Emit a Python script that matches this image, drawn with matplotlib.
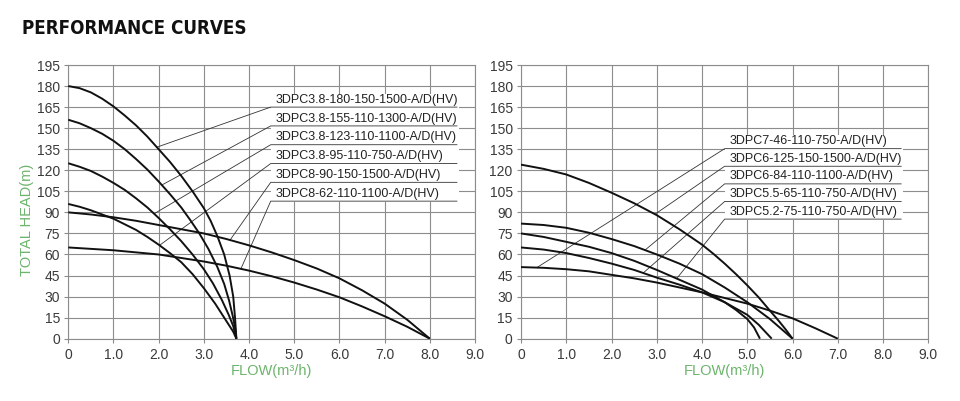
import numpy as np
import matplotlib
matplotlib.use('Agg')
import matplotlib.pyplot as plt
from matplotlib.patches import Rectangle

# ---- left panel data (flow m3/h, head m) ----
left_names = ['3DPC3.8-180-150-1500-A/D(HV)', '3DPC3.8-155-110-1300-A/D(HV)',
              '3DPC3.8-123-110-1100-A/D(HV)', '3DPC3.8-95-110-750-A/D(HV)',
              '3DPC8-90-150-1500-A/D(HV)', '3DPC8-62-110-1100-A/D(HV)']

q_180 = [0, 0.25, 0.5, 0.75, 1, 1.25, 1.5, 1.75, 2, 2.25, 2.5, 2.75, 3, 3.15, 3.3, 3.45, 3.57, 3.65, 3.69, 3.72]
h_180 = [180, 178.5, 175.5, 171, 165.5, 159, 152, 144, 135, 126, 116, 105, 93, 84, 73, 60, 45, 30, 15, 0]
q_155 = [0, 0.25, 0.5, 0.75, 1, 1.25, 1.5, 1.75, 2, 2.25, 2.5, 2.7, 2.9, 3.1, 3.3, 3.45, 3.56, 3.64, 3.69, 3.72]
h_155 = [156, 153.5, 150, 146, 141, 135, 128, 120.5, 112, 103, 93.5, 84.5, 75, 64, 51, 39, 27, 16, 8, 0]
q_123 = [0, 0.25, 0.5, 0.75, 1, 1.25, 1.5, 1.75, 2, 2.25, 2.5, 2.75, 3, 3.2, 3.4, 3.55, 3.65, 3.72]
h_123 = [125, 122.5, 119.5, 115.5, 111, 106, 100, 93.5, 86, 78, 69.5, 60, 49.5, 39.5, 27.5, 17, 9, 0]
q_95 = [0, 0.25, 0.5, 0.75, 1, 1.25, 1.5, 1.75, 2, 2.25, 2.5, 2.75, 3, 3.25, 3.5, 3.65, 3.72]
h_95 = [96, 94, 91.5, 88.5, 85.5, 81.5, 77.5, 72.5, 67, 61, 54.5, 46, 36, 25, 12.5, 5, 0]
q_90 = [0, 0.5, 1, 1.5, 2, 2.5, 3, 3.5, 4, 4.5, 5, 5.5, 6, 6.5, 7, 7.5, 8]
h_90 = [90, 88.5, 86.5, 84, 81, 78, 75, 71, 66.5, 61.5, 56, 50, 43, 34.5, 25, 13.5, 0]
q_62 = [0, 1, 2, 3, 3.5, 4, 4.5, 5, 5.5, 6, 6.5, 7, 7.5, 8]
h_62 = [65, 63, 60, 55, 52, 48.5, 44.5, 40, 35, 29.5, 23, 16, 8.5, 0]
left_leader_q = [1.96, 2.07, 1.90, 2.02, 3.58, 3.82]

# ---- right panel data ----
right_names = ['3DPC7-46-110-750-A/D(HV)', '3DPC6-125-150-1500-A/D(HV)',
               '3DPC6-84-110-1100-A/D(HV)', '3DPC5.5-65-110-750-A/D(HV)',
               '3DPC5.2-75-110-750-A/D(HV)']

q_46 = [0, 0.5, 1, 1.5, 2, 2.5, 3, 3.5, 4, 4.5, 5, 5.5, 6, 6.5, 7]
h_46 = [51, 50.5, 49.5, 48, 45.5, 43, 40, 36.5, 33, 29, 25, 20, 14.5, 7.5, 0]
q_125 = [0, 0.5, 1, 1.5, 2, 2.5, 3, 3.5, 4, 4.25, 4.5, 4.75, 5, 5.25, 5.5, 5.7, 5.85, 6.0]
h_125 = [124, 121, 117, 111, 104, 96.5, 88, 78, 67, 60.5, 53.5, 46, 38, 29.5, 20, 12.5, 6.5, 0]
q_84 = [0, 0.5, 1, 1.5, 2, 2.5, 3, 3.5, 4, 4.5, 5, 5.5, 5.75, 6.0]
h_84 = [82, 81, 79, 75.5, 71, 66, 60, 53.5, 46, 36.5, 26, 14, 7, 0]
q_65 = [0, 0.5, 1, 1.5, 2, 2.5, 3, 3.5, 4, 4.5, 5, 5.25, 5.54]
h_65 = [65, 63.5, 61, 57.5, 53.5, 49, 43.5, 38.5, 33, 26, 17, 10, 0]
q_75 = [0, 0.5, 1, 1.5, 2, 2.5, 3, 3.5, 4, 4.5, 4.75, 5, 5.15, 5.28]
h_75 = [75, 72.5, 69, 65.5, 61, 55.5, 49, 42, 35, 26, 20.5, 14, 8, 0]
right_leader_q = [0.35, 2.96, 2.74, 2.70, 3.44]

x_ticks = np.arange(0, 10)
x_labels = ['0'] + ['%.1f' % v for v in x_ticks[1:]]
y_ticks = np.arange(0, 196, 15)

GRID = '#8c8c8c'
GREEN = '#6cb46c'
TXT = '#3a3a3a'
font = ['Liberation Sans', 'DejaVu Sans']
plt.rcParams['font.family'] = font


def setup(ax):
    ax.set_xlim(0, 9)
    ax.set_ylim(0, 195)
    ax.set_xticks(x_ticks)
    ax.set_xticklabels(x_labels)
    ax.set_yticks(y_ticks)
    ax.grid(True, color=GRID, lw=0.8)
    ax.set_axisbelow(True)
    for s in ax.spines.values():
        s.set_color(GRID)
        s.set_linewidth(0.8)
    ax.tick_params(axis='both', colors=GRID, labelcolor=TXT, labelsize=10,
                   length=3, width=0.8)
    ax.tick_params(axis='x', pad=4)
    ax.tick_params(axis='y', pad=3)
    ax.set_xlabel('FLOW(m³/h)', color=GREEN, fontsize=10.5, labelpad=1)


def labels_block(ax, curves, names, leader_q, x0, x1, y_top, step):
    n = len(names)
    y_bot = y_top - step * (n - 1)
    ax.add_patch(Rectangle((x0, y_bot - 0.5), x1 - x0 + 0.05, y_top + 10 - y_bot,
                           facecolor='white', edgecolor='none', zorder=2))
    for i, name in enumerate(names):
        yl = y_top - i * step
        q, h = curves[i]
        yc = np.interp(leader_q[i], q, h)
        ax.plot([leader_q[i], x0, x1], [yc, yl, yl], color='#333333', lw=0.6, zorder=3)
        ax.text(x0 + 0.1, yl + 1.0, name, fontsize=9, color='#222222',
                va='bottom', ha='left', zorder=4)


fig = plt.figure(figsize=(9.6, 4.01), dpi=100)
ax1 = fig.add_axes([0.0711, 0.1554, 0.4237, 0.6825])
ax2 = fig.add_axes([0.5427, 0.1554, 0.4243, 0.6825])

left_curves = [(q_180, h_180), (q_155, h_155), (q_123, h_123),
               (q_95, h_95), (q_90, h_90), (q_62, h_62)]
right_curves = [(q_46, h_46), (q_125, h_125), (q_84, h_84),
                (q_65, h_65), (q_75, h_75)]

for ax, curves in [(ax1, left_curves), (ax2, right_curves)]:
    setup(ax)
    for q, h in curves:
        ax.plot(q, h, color='#111111', lw=1.4, zorder=5,
                solid_joinstyle='round', solid_capstyle='butt')

labels_block(ax1, left_curves, left_names, left_leader_q, 4.48, 8.6, 165, 13.4)
labels_block(ax2, right_curves, right_names, right_leader_q, 4.5, 8.4, 135.4, 12.55)

fig.text(27 / 960, 1 - 220 / 401, 'TOTAL HEAD(m)', rotation=90, color=GREEN,
         fontsize=10.5, ha='center', va='center')
fig.text(22 / 960, 1 - 29 / 401, 'PERFORMANCE CURVES', fontsize=13.5,
         fontweight='heavy', fontstretch='condensed', va='center', ha='left',
         color='#111111', family=['DejaVu Sans'])

fig.savefig('out.png', dpi=100, facecolor='white')
